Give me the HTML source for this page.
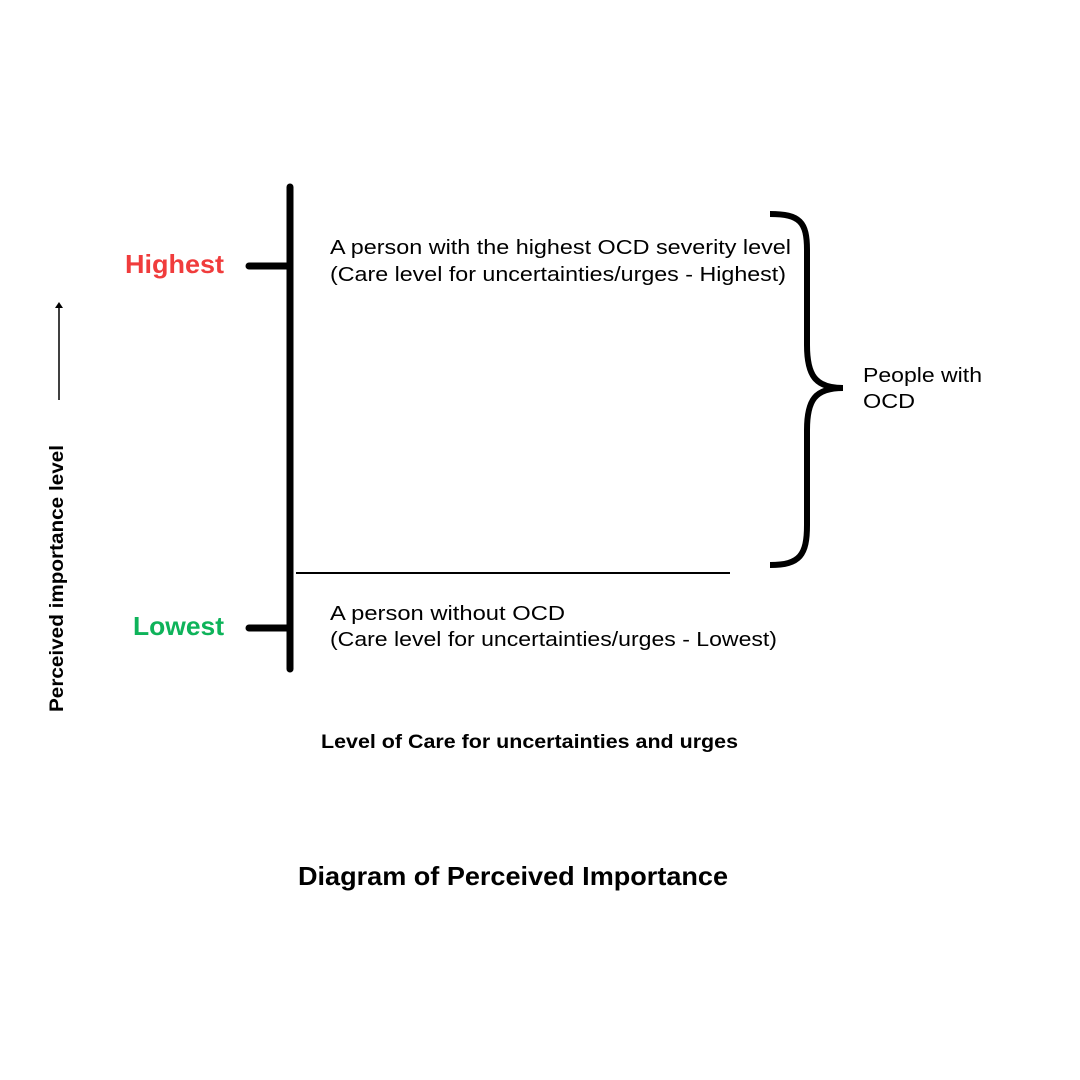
<!DOCTYPE html>
<html><head><style>
html,body{margin:0;padding:0;background:#fff;}
svg{display:block;}
text{font-family:"Liberation Sans",sans-serif;}
</style></head><body>
<svg width="1080" height="1080" viewBox="0 0 1080 1080" xmlns="http://www.w3.org/2000/svg">
<rect width="1080" height="1080" fill="#fff"/>
<line x1="290" y1="187" x2="290" y2="669" stroke="#000" stroke-width="7" stroke-linecap="round"/>
<line x1="249" y1="266" x2="290" y2="266" stroke="#000" stroke-width="7" stroke-linecap="round"/>
<line x1="249" y1="628" x2="290" y2="628" stroke="#000" stroke-width="7" stroke-linecap="round"/>
<line x1="296" y1="573" x2="730" y2="573" stroke="#000" stroke-width="2"/>
<path d="M770 214 C800 214 807 222 807 250 L807 345 C807 375 815 388 843 388 C815 388 807 400 807 430 L807 525 C807 555 800 565 770 565" fill="none" stroke="#000" stroke-width="6"/>
<line x1="59" y1="400" x2="59" y2="306" stroke="#000" stroke-width="1.5"/>
<path d="M55 308 L59 302 L63 308 Z" fill="#000"/>
<text x="125" y="273" font-size="26" font-weight="bold" fill="#f03c3c" textLength="99" lengthAdjust="spacingAndGlyphs">Highest</text>
<text x="133" y="635" font-size="26" font-weight="bold" fill="#0eb35a" textLength="91" lengthAdjust="spacingAndGlyphs">Lowest</text>
<text x="330" y="254" font-size="20" textLength="461" lengthAdjust="spacingAndGlyphs">A person with the highest OCD severity level</text>
<text x="330" y="281" font-size="20" textLength="456" lengthAdjust="spacingAndGlyphs">(Care level for uncertainties/urges - Highest)</text>
<text x="330" y="620" font-size="20" textLength="235" lengthAdjust="spacingAndGlyphs">A person without OCD</text>
<text x="330" y="646" font-size="20" textLength="447" lengthAdjust="spacingAndGlyphs">(Care level for uncertainties/urges - Lowest)</text>
<text x="863" y="382" font-size="20" textLength="119" lengthAdjust="spacingAndGlyphs">People with</text>
<text x="863" y="408" font-size="20" textLength="52" lengthAdjust="spacingAndGlyphs">OCD</text>
<text x="321" y="748" font-size="19" font-weight="bold" textLength="417" lengthAdjust="spacingAndGlyphs">Level of Care for uncertainties and urges</text>
<text x="298" y="885" font-size="26" font-weight="bold" textLength="430" lengthAdjust="spacingAndGlyphs">Diagram of Perceived Importance</text>
<text transform="translate(63,712) rotate(-90)" font-size="19" font-weight="bold" textLength="267" lengthAdjust="spacingAndGlyphs">Perceived importance level</text>
</svg>
</body></html>
